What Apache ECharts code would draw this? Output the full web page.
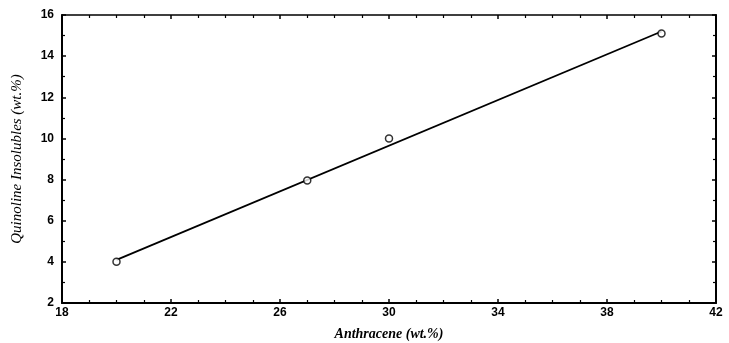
<!DOCTYPE html>
<html>
<head>
<meta charset="utf-8">
<script src="https://cdn.jsdelivr.net/npm/echarts@6/dist/echarts.min.js"></script>
<style>
  html, body { margin: 0; padding: 0; background: #fff; }
  #chart { width: 729px; height: 343px; }
</style>
</head>
<body>
<div id="chart"></div>
<script>
// measured points
var anthracene = [20, 27, 30, 40]
var qi = [4.0, 7.95, 10.0, 15.1]
// fitted line ends
var fitX = [20, 40]
var fitY = [4.1, 15.2]

var xTicks = { min: 18, max: 42, interval: 4 }
var yTicks = { min: 2, max: 16, interval: 2 }

var pts = anthracene.map(function (x, i) { return [x, qi[i]] })
var fit = fitX.map(function (x, i) { return [x, fitY[i]] })

var chart = echarts.init(document.getElementById('chart'))

var labelFont = {
  color: '#000',
  fontFamily: 'Liberation Sans, Arial, sans-serif',
  fontWeight: 'bold',
  fontSize: 12
}

function frameAxis (pos, showLabel, width) {
  var horiz = pos === 'bottom' || pos === 'top'
  return {
    type: 'value',
    position: pos,
    min: horiz ? xTicks.min : yTicks.min,
    max: horiz ? xTicks.max : yTicks.max,
    interval: horiz ? xTicks.interval : yTicks.interval,
    axisLine: { show: true, onZero: false, lineStyle: { color: '#000', width: width } },
    axisTick: { show: true, inside: true, length: 4, lineStyle: { color: '#000', width: 1.5 } },
    minorTick: { show: true, splitNumber: horiz ? 4 : 2, length: 3, lineStyle: { color: '#000', width: 1.2 } },
    splitLine: { show: false },
    axisLabel: Object.assign({ show: showLabel, margin: 4 }, labelFont)
  }
}

var xBottom = frameAxis('bottom', true, 2)
xBottom.name = 'Anthracene (wt.%)'
xBottom.nameLocation = 'middle'
xBottom.nameGap = 24
xBottom.nameTextStyle = { fontFamily: 'Liberation Serif, Times New Roman, serif', fontStyle: 'italic', fontWeight: 'bold', fontSize: 14, color: '#000' }

var yLeft = frameAxis('left', true, 2)
yLeft.axisLabel.margin = 8
yLeft.name = 'Quinoline Insolubles (wt.%)'
yLeft.nameLocation = 'middle'
yLeft.nameGap = 37
yLeft.nameTextStyle = { fontFamily: 'Liberation Serif, Times New Roman, serif', fontStyle: 'italic', fontSize: 15, color: '#000' }

chart.setOption({
  animation: false,
  backgroundColor: '#fff',
  grid: { left: 62, right: 13, top: 15, bottom: 40, outerBoundsMode: 'none' },
  xAxis: [xBottom, frameAxis('top', false, 1.5)],
  yAxis: [yLeft, frameAxis('right', false, 2)],
  series: [
    {
      name: 'fit',
      type: 'line',
      data: fit,
      showSymbol: false,
      lineStyle: { color: '#000', width: 1.8 },
      z: 2
    },
    {
      name: 'QI',
      type: 'scatter',
      data: pts,
      symbol: 'circle',
      symbolSize: 7,
      itemStyle: { color: '#fff', borderColor: '#000', borderWidth: 1.5 },
      z: 3
    }
  ]
})
</script>
</body>
</html>
